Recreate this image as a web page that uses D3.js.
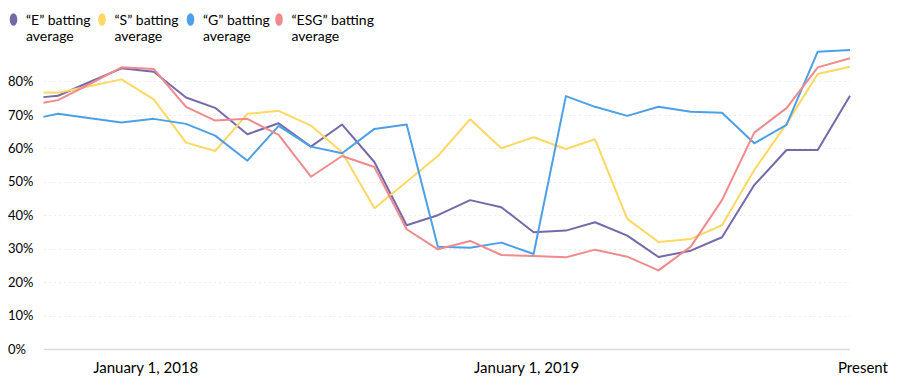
<!DOCTYPE html>
<html lang="en">
<head>
    <meta charset="utf-8">
    <title>ESG batting average</title>
    <script src="https://d3js.org/d3.v7.min.js"></script>
    <style>
      body { margin: 0; background: #fff; }
      text { font-family: Lato, 'Open Sans', sans-serif; fill: #000; }
    </style>
</head>
<body>
<div id="container-1"></div>
<script type="text/javascript">
// monthly readings, first one is a partial month
var dates = ["2017-09-17", "2017-10-01", "2017-11-01", "2017-12-01",
  "2018-01-01", "2018-02-01", "2018-03-01", "2018-04-01", "2018-05-01", "2018-06-01",
  "2018-07-01", "2018-08-01", "2018-09-01", "2018-10-01", "2018-11-01", "2018-12-01",
  "2019-01-01", "2019-02-01", "2019-03-01", "2019-04-01", "2019-05-01", "2019-06-01",
  "2019-07-01", "2019-08-01", "2019-09-01", "2019-10-01", "2019-11-01"];

var seriesNames = ["\u201cE\u201d batting average", "\u201cS\u201d batting average",
                   "\u201cG\u201d batting average", "\u201cESG\u201d batting average"];

var eValues   = [75.3, 75.7, 79.9, 83.9, 82.9, 75.2, 72.1, 64.2, 67.5, 60.5, 67.1, 55.9, 37.0,
                 40.0, 44.5, 42.4, 34.9, 35.4, 37.9, 33.9, 27.5, 29.4, 33.4, 49.0, 59.5, 59.5, 75.7];
var sValues   = [76.7, 76.6, 78.6, 80.6, 74.6, 61.7, 59.2, 70.3, 71.2, 66.8, 58.8, 42.1, 50.0,
                 57.7, 68.7, 60.0, 63.3, 59.8, 62.7, 38.9, 32.0, 32.9, 37.0, 53.5, 67.3, 82.2, 84.4];
var gValues   = [69.4, 70.3, 69.0, 67.7, 68.8, 67.3, 63.8, 56.3, 66.7, 60.5, 58.5, 65.8, 67.1,
                 30.6, 30.3, 31.8, 28.4, 75.6, 72.4, 69.7, 72.4, 70.9, 70.6, 61.5, 67.0, 88.9, 89.4];
var esgValues = [73.6, 74.4, 79.3, 84.2, 83.7, 72.4, 68.3, 68.8, 64.0, 51.5, 57.7, 54.4, 35.8,
                 29.8, 32.3, 28.1, 27.8, 27.4, 29.7, 27.6, 23.5, 30.6, 44.5, 64.7, 72.0, 84.2, 86.9];

var colors = ["#7669aa", "#fdd862", "#4d9fe8", "#f08a8c"];

var yTicks = [0, 10, 20, 30, 40, 50, 60, 70, 80];
var xTickDates = ["2018-01-01", "2019-01-01", "2019-11-01"];
var xTickLabels = ["January 1, 2018", "January 1, 2019", "Present"];

var width = 900, height = 391;
var parse = d3.timeParse("%Y-%m-%d");

var x = d3.scaleTime()
    .domain([parse("2017-10-01"), parse("2019-11-01")])
    .range([58, 850]);
var y = d3.scaleLinear()
    .domain([0, 100])
    .range([349, 14.5]);

var svg = d3.select("#container-1").append("svg")
    .attr("width", width)
    .attr("height", height);

// gridlines + baseline
var grid = svg.append("g");
grid.selectAll("line")
    .data(yTicks)
    .enter().append("line")
    .attr("x1", 44)
    .attr("x2", 850)
    .attr("y1", d => Math.round(y(d)) + 0.5)
    .attr("y2", d => Math.round(y(d)) + 0.5)
    .style("stroke", d => d == 0 ? "#d9d9d9" : "#ececec")
    .style("stroke-width", d => d == 0 ? 1.5 : 1)
    .style("stroke-dasharray", d => d == 0 ? null : "2,3");

svg.append("g").selectAll("text")
    .data(yTicks)
    .enter().append("text")
    .attr("x", 8)
    .attr("y", d => y(d))
    .attr("dy", "0.36em")
    .style("font-size", "13px")
    .text(d => d + "%");

// x labels are placed a bit off their dates like in the original slide
var xShift = [-8, -7, 13];
svg.append("g").selectAll("text")
    .data(xTickDates)
    .enter().append("text")
    .attr("x", (d, i) => x(parse(d)) + xShift[i])
    .attr("y", 373)
    .attr("text-anchor", "middle")
    .style("font-size", "15px")
    .text((d, i) => xTickLabels[i]);

// lines
var allValues = [eValues, sValues, gValues, esgValues];
var line = d3.line()
    .x((d, i) => x(parse(dates[i])))
    .y(d => y(d));

svg.append("g").selectAll("path")
    .data(allValues)
    .enter().append("path")
    .attr("d", d => line(d))
    .style("fill", "none")
    .style("stroke", (d, i) => colors[i])
    .style("stroke-width", 2)
    .style("stroke-linejoin", "round");

// legend, two lines per entry
var legendX = [13.5, 102, 190.5, 279];
var legend = svg.selectAll(".legend")
    .data(seriesNames)
    .enter().append("g")
    .attr("class", "legend")
    .attr("transform", (d, i) => `translate(${legendX[i]},0)`);

legend.append("ellipse")
    .attr("cx", 0)
    .attr("cy", 19.5)
    .attr("rx", 3.8)
    .attr("ry", 6.3)
    .style("fill", (d, i) => colors[i]);

legend.append("text")
    .attr("x", 12.5)
    .attr("y", 24.5)
    .style("font-size", "14px")
    .text(d => d.replace(" average", ""));

legend.append("text")
    .attr("x", 12.5)
    .attr("y", 41)
    .style("font-size", "14px")
    .text("average");
</script>
</body>
</html>
